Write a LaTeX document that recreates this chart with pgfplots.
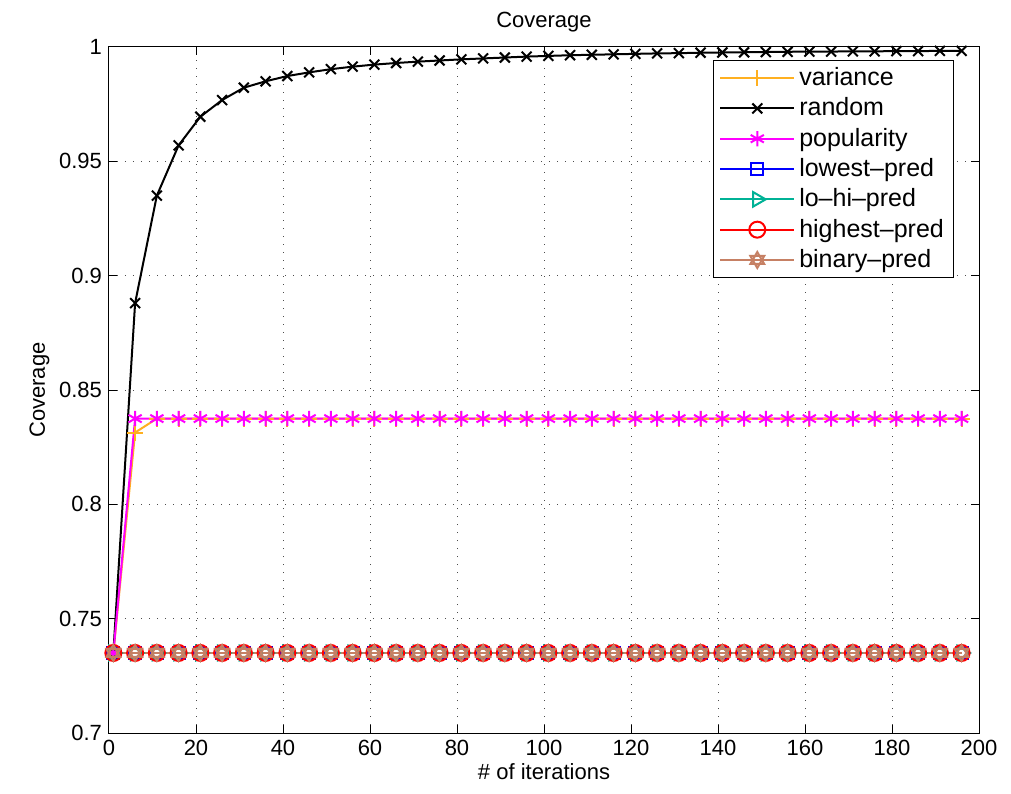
\documentclass[border=0pt]{standalone}
\usepackage{fontspec}
\setmainfont{Liberation Sans}
\usepackage{pgfplots}
\pgfplotsset{compat=1.18}
\usepackage{pgfplotstable}

\definecolor{varc}{RGB}{255,176,32}
\definecolor{randc}{RGB}{0,0,0}
\definecolor{popc}{RGB}{255,0,255}
\definecolor{lowc}{RGB}{0,0,255}
\definecolor{lohic}{RGB}{0,178,150}
\definecolor{highc}{RGB}{255,0,0}
\definecolor{binc}{RGB}{198,128,100}

\pgfdeclareplotmark{hexagram}{%
  \pgfpathmoveto{\pgfqpointpolar{90}{\pgfplotmarksize}}%
  \pgfpathlineto{\pgfqpointpolar{210}{\pgfplotmarksize}}%
  \pgfpathlineto{\pgfqpointpolar{330}{\pgfplotmarksize}}%
  \pgfpathclose
  \pgfpathmoveto{\pgfqpointpolar{270}{\pgfplotmarksize}}%
  \pgfpathlineto{\pgfqpointpolar{30}{\pgfplotmarksize}}%
  \pgfpathlineto{\pgfqpointpolar{150}{\pgfplotmarksize}}%
  \pgfpathclose
  \pgfusepathqstroke}

\pgfplotstableread{
x   var    rand    pop    flat
1   0.735  0.735   0.735  0.735
6   0.8314 0.888   0.8375 0.735
11  0.8375 0.935   0.8375 0.735
16  0.8375 0.957   0.8375 0.735
21  0.8375 0.9695  0.8375 0.735
26  0.8375 0.9768  0.8375 0.735
31  0.8375 0.9822  0.8375 0.735
36  0.8375 0.9850  0.8375 0.735
41  0.8375 0.9873  0.8375 0.735
46  0.8375 0.9889  0.8375 0.735
51  0.8375 0.9903  0.8375 0.735
56  0.8375 0.9914  0.8375 0.735
61  0.8375 0.9923  0.8375 0.735
66  0.8375 0.9930  0.8375 0.735
71  0.8375 0.9936  0.8375 0.735
76  0.8375 0.9941  0.8375 0.735
81  0.8375 0.9946  0.8375 0.735
86  0.8375 0.9950  0.8375 0.735
91  0.8375 0.9954  0.8375 0.735
96  0.8375 0.9958  0.8375 0.735
101 0.8375 0.9961  0.8375 0.735
106 0.8375 0.9964  0.8375 0.735
111 0.8375 0.9966  0.8375 0.735
116 0.8375 0.9968  0.8375 0.735
121 0.8375 0.9970  0.8375 0.735
126 0.8375 0.9972  0.8375 0.735
131 0.8375 0.9973  0.8375 0.735
136 0.8375 0.9975  0.8375 0.735
141 0.8375 0.9976  0.8375 0.735
146 0.8375 0.9977  0.8375 0.735
151 0.8375 0.9978  0.8375 0.735
156 0.8375 0.9979  0.8375 0.735
161 0.8375 0.9980  0.8375 0.735
166 0.8375 0.9980  0.8375 0.735
171 0.8375 0.9981  0.8375 0.735
176 0.8375 0.9981  0.8375 0.735
181 0.8375 0.9982  0.8375 0.735
186 0.8375 0.9982  0.8375 0.735
191 0.8375 0.9983  0.8375 0.735
196 0.8375 0.9983  0.8375 0.735
}\datatable

\begin{document}
\begin{tikzpicture}
  \useasboundingbox (-54.5pt,-30pt) rectangle (451pt,366.5pt);
  \begin{axis}[
    scale only axis,
    width=435pt, height=343pt,
    at={(0,0)}, anchor=south west,
    xmin=0, xmax=200, ymin=0.7, ymax=1,
    xtick={0,20,...,200},
    ytick={0.7,0.75,...,1.0},
    yticklabel style={/pgf/number format/fixed,/pgf/number format/precision=2},
    /pgf/number format/assume math mode=true,
    tick align=inside,
    major tick length=4pt,
    axis line style={line width=0.5pt},
    tick style={line width=0.5pt,black},
    grid=major,
    grid style={black!70,line width=0.5pt,dash pattern=on 0.5pt off 3.5pt},
    font=\fontsize{11}{13}\selectfont,
    ticklabel style={font=\fontsize{11}{13}\selectfont},
    title={Coverage},
    title style={yshift=-2pt},
    xlabel={\# of iterations},
    ylabel={Coverage},
    xlabel style={yshift=3pt},
    ylabel style={yshift=-2pt},
    legend style={
      at={(0.694,0.981)}, anchor=north west,
      draw=black, line width=0.5pt, fill=white,
      font=\fontsize{12.5}{15}\selectfont,
      cells={anchor=west},
      row sep=0.6pt,
      inner xsep=3pt, inner ysep=1.5pt,
    },
    legend image code/.code={
      \draw[#1] (0pt,0pt) -- (37pt,0pt);
      \draw[#1,solid] plot coordinates {(18.5pt,0pt)};
    },
    every axis plot/.append style={line width=1pt},
  ]
    \addplot[color=varc, mark=+, mark size=4pt] table[x=x,y=var] {\datatable};
    \addlegendentry{variance}
    \addplot[color=randc, mark=x, mark size=3.5pt] table[x=x,y=rand] {\datatable};
    \addlegendentry{random}
    \addplot[color=popc, mark=asterisk, mark size=3.8pt] table[x=x,y=pop] {\datatable};
    \addlegendentry{popularity}
    \addplot[color=lowc, mark=square, mark size=3pt] table[x=x,y=flat] {\datatable};
    \addlegendentry{lowest\textendash pred}
    \addplot[color=lohic, mark=triangle, mark size=4.2pt, mark options={rotate=-90}] table[x=x,y=flat] {\datatable};
    \addlegendentry{lo\textendash hi\textendash pred}
    \addplot[color=highc, mark=o, mark size=4pt] table[x=x,y=flat] {\datatable};
    \addlegendentry{highest\textendash pred}
    \addplot[color=binc, mark=hexagram, mark size=4pt] table[x=x,y=flat] {\datatable};
    \addlegendentry{binary\textendash pred}
  \end{axis}
\end{tikzpicture}
\end{document}
